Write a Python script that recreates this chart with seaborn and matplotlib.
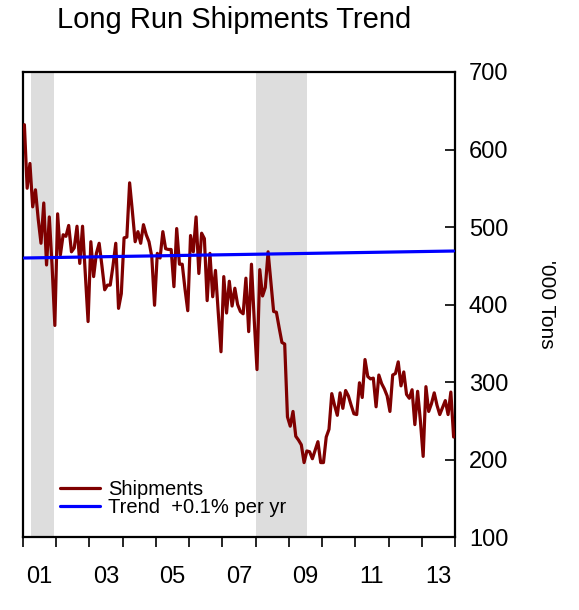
import numpy as np
import pandas as pd
import matplotlib
matplotlib.use('Agg')
import matplotlib.pyplot as plt
import seaborn as sns

# monthly shipments, '000 tons, Jan 2001 - Dec 2013 (one row per year)
shipments = [
    632, 550, 582, 526, 548, 510, 479, 531, 451, 513, 450, 373,   # 2001
    517, 464, 490, 488, 502, 468, 473, 501, 453, 501, 440, 378,   # 2002
    481, 436, 466, 479, 450, 419, 425, 425, 450, 479, 395, 414,   # 2003
    486, 487, 557, 520, 481, 494, 479, 503, 490, 481, 462, 399,   # 2004
    466, 460, 494, 472, 471, 471, 423, 498, 452, 452, 420, 392,   # 2005
    489, 468, 513, 440, 492, 485, 405, 466, 410, 444, 390, 339,   # 2006
    436, 389, 430, 398, 421, 400, 391, 388, 434, 365, 452, 380,   # 2007
    316, 445, 411, 422, 468, 430, 391, 390, 370, 351, 349, 255,   # 2008
    243, 262, 230, 225, 219, 196, 211, 210, 201, 212, 223, 196,   # 2009
    196, 229, 239, 285, 270, 257, 286, 266, 289, 282, 270, 259,   # 2010
    258, 299, 280, 329, 307, 304, 305, 268, 309, 298, 291, 282,   # 2011
    262, 309, 311, 326, 295, 313, 284, 279, 290, 245, 288, 250,   # 2012
    204, 294, 262, 272, 286, 270, 258, 267, 276, 258, 287, 229,   # 2013
]
first_year = 2001
trend_values = [460, 469]

# recessions (decimal years)
recession_start = [2001.25, 2008.0]
recession_end = [2001.92, 2009.55]

year_labels = ['01', '03', '05', '07', '09', '11', '13']
y_ticks = [100, 200, 300, 400, 500, 600, 700]

ship_color = '#7f0000'
trend_color = '#0000ff'
shade_color = '#dddddd'

# ------------------------------------------------------------
months = first_year + (np.arange(len(shipments)) + 0.5) / 12
df = pd.DataFrame({'date': months, 'value': shipments})
trend_df = pd.DataFrame({'date': [months[0], months[-1]], 'value': trend_values})

sns.set_style('white')
plt.rcParams['font.family'] = ['Liberation Sans', 'DejaVu Sans']
plt.rcParams['text.color'] = 'black'
plt.rcParams['axes.labelcolor'] = 'black'
plt.rcParams['xtick.color'] = 'black'
plt.rcParams['ytick.color'] = 'black'

fig = plt.figure(figsize=(5.79, 6.10), dpi=100)
ax = fig.add_axes([23 / 579, 1 - 537 / 610, 432 / 579, 465 / 610])

for s, e in zip(recession_start, recession_end):
    ax.axvspan(s, e, color=shade_color, lw=0, zorder=0)

sns.lineplot(data=df, x='date', y='value', color=ship_color, lw=2.3,
             label='Shipments', ax=ax, zorder=3)
sns.lineplot(data=trend_df, x='date', y='value', color=trend_color, lw=2.3,
             label='Trend  +0.1% per yr', ax=ax, zorder=4)

ax.set_xlim(first_year, first_year + 13)
ax.set_ylim(100, 700)

# x axis: year boundary ticks, labels centred on odd years
ax.set_xticks(np.arange(first_year, first_year + 14))
ax.set_xticklabels([])
ax.set_xticks([first_year + 0.5 + 2 * i for i in range(len(year_labels))], minor=True)
ax.set_xticklabels(year_labels, minor=True)
ax.tick_params(axis='x', which='major', direction='out', length=7, width=1.2,
               bottom=True)
ax.tick_params(axis='x', which='minor', length=0, pad=21, labelsize=17)

# y axis on the right
ax.yaxis.tick_right()
ax.yaxis.set_label_position('right')
ax.set_yticks(y_ticks)
ax.tick_params(axis='y', direction='in', length=7, width=1.2, pad=10,
               labelsize=17, left=False, right=True)
ax.set_ylabel("'000 Tons", fontsize=15, rotation=270, labelpad=34)
ax.set_xlabel('')

for sp in ax.spines.values():
    sp.set_color('black')
    sp.set_linewidth(1.6)

leg = ax.legend(loc='upper left', bbox_to_anchor=(0.086, 0.122), frameon=False,
                fontsize=14.5, handlelength=2.0, handletextpad=0.4,
                labelspacing=-0.05, borderpad=0, borderaxespad=0)

fig.text(0.405, 1 - 20 / 610, 'Long Run Shipments Trend', fontsize=21,
         ha='center', va='center')

plt.savefig('out.png', dpi=100)
